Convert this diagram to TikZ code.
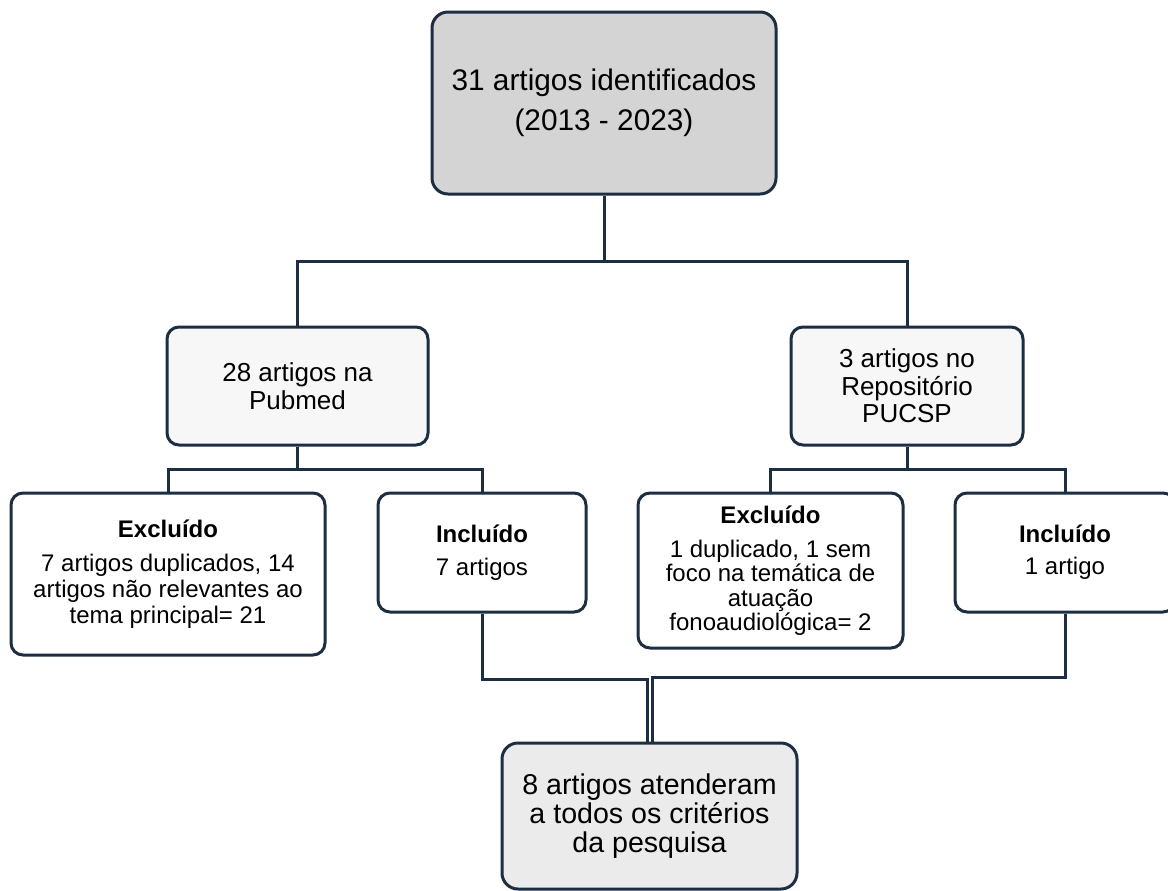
\documentclass[tikz,border=0pt]{standalone}
\usepackage{fontspec}
\setmainfont{Liberation Sans}
\usepackage{xcolor}
\usepackage{tikz}
\usetikzlibrary{positioning,calc}
\definecolor{FlowNavy}{HTML}{1E2E42}
\definecolor{TopGray}{HTML}{D4D4D4}
\definecolor{SoftGray}{HTML}{F7F7F7}
\definecolor{EndGray}{HTML}{EBEBEB}

\begin{document}
\begin{tikzpicture}[x=0.5pt,y=-0.5pt,
  box/.style={draw=FlowNavy,line width=1.5pt,rounded corners=6pt,fill=white,align=center,inner sep=0pt},
  link/.style={draw=FlowNavy,line width=1.5pt}]
\clip (0,0) rectangle (1168,890);
\fill[white] (0,0) rectangle (1168,890);
\node[box,rounded corners=8pt,fill=TopGray,minimum width=172pt,minimum height=91pt,font=\fontsize{14.9}{20}\selectfont] (ident) at (604,103) {31 artigos identificados\\(2013 - 2023)};
\node[box,fill=SoftGray,minimum width=130.5pt,minimum height=59pt,font=\fontsize{13}{14}\selectfont] (pubmed) at (297.5,386) {28 artigos na\\Pubmed};
\node[box,fill=SoftGray,minimum width=116pt,minimum height=59pt,font=\fontsize{13}{13.8}\selectfont] (pucsp) at (907,386) {3 artigos no\\Repositório\\PUCSP};
\node[box,minimum width=157pt,minimum height=81pt,font=\fontsize{12}{13}\selectfont] (exclA) at (168,574) {\textbf{Excluído}\\[4pt]7 artigos duplicados, 14\\artigos não relevantes ao\\tema principal= 21};
\node[box,minimum width=104pt,minimum height=59.5pt,font=\fontsize{12}{12.5}\selectfont] (inclA) at (482,552.5) {\textbf{Incluído}\\[4pt]7 artigos};
\node[box,minimum width=132.5pt,minimum height=77.5pt,font=\fontsize{12}{12.2}\selectfont] (exclB) at (770.5,570.5) {\textbf{Excluído}\\[4.8pt]1 duplicado, 1 sem\\foco na temática de\\atuação\\fonoaudiológica= 2};
\node[box,minimum width=110pt,minimum height=59.5pt,font=\fontsize{12}{12.5}\selectfont] (inclB) at (1065,552.5) {\textbf{Incluído}\\[3.5pt]1 artigo};
\node[box,rounded corners=8pt,fill=EndGray,minimum width=147.5pt,minimum height=73pt,font=\fontsize{14.3}{14.6}\selectfont] (final) at (649.5,816) {8 artigos atenderam\\a todos os critérios\\da pesquisa};
\coordinate (splitTop) at (604,261);
\coordinate (splitA) at (297.5,469);
\coordinate (splitB) at (907,469);
\coordinate (mergeA) at (647,679);
\coordinate (mergeB) at (652,677);
\draw[link] (ident.south)--(splitTop);\draw[link] (pubmed.north) |- (splitTop) -| (pucsp.north);
\draw[link] (pubmed.south)--(splitA);\draw[link] (exclA.north) |- (splitA) -| (inclA.north);
\draw[link] (pucsp.south)--(splitB);\draw[link] (exclB.north) |- (splitB) -| (inclB.north);
\draw[link] (inclA.south) |- (mergeA)--(mergeA |- final.north);
\draw[link] (inclB.south) |- (mergeB)--(mergeB |- final.north);
\end{tikzpicture}
\end{document}
